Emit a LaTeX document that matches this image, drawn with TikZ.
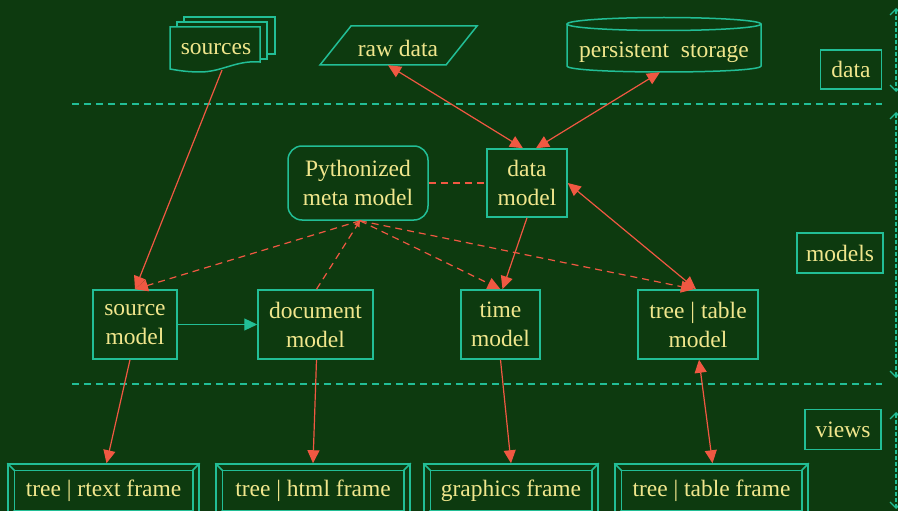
\documentclass[tikz,border=0pt]{standalone}
\usepackage{fontspec}
\setmainfont{Liberation Serif}
\usetikzlibrary{arrows.meta,calc}
\definecolor{bg}{RGB}{13,58,15}
\definecolor{tl}{RGB}{34,190,150}
\definecolor{txt}{RGB}{240,230,140}
\definecolor{arr}{RGB}{240,88,66}
\begin{document}
\begin{tikzpicture}[x=1pt,y=-1pt,
  font=\fontsize{23.5}{29}\selectfont,
  box/.style={draw=tl, line width=1.5pt, text=txt, align=center, inner sep=0pt},
  lbl/.style={text=txt, align=center, inner sep=0pt},
  ln/.style={draw=tl, line width=1.5pt},
  frm/.style={box, minimum height=53pt},
  ra/.style={draw=arr, line width=1.2pt, -{Triangle[length=13pt,width=12pt]}},
  rb/.style={draw=arr, line width=1.2pt, {Triangle[length=13pt,width=12pt]}-{Triangle[length=13pt,width=12pt]}},
  dsh/.style={dash pattern=on 7pt off 5pt},
  sep/.style={draw=tl, line width=1.1pt, dash pattern=on 7pt off 5pt},
  brk/.style={draw=tl, line width=1.3pt, dash pattern=on 4pt off 2pt, {Straight Barb[length=6pt,width=12pt]}-{Straight Barb[length=6pt,width=12pt]}}
]
\useasboundingbox (0,0) rectangle (898,511);
\clip (0,0) rectangle (898,511);
\fill[bg] (0,0) rectangle (898,511);

% separators
\draw[sep] (72,104) -- (882,104);
\draw[sep] (72,384) -- (882,384);
% right brackets
\draw[brk] (896,8) -- (896,92);
\draw[brk] (896,112) -- (896,378);
\draw[brk] (896,412) -- (896,509);

% sources (document stack)
\draw[ln, fill=bg] (184,17) -- (275,17) -- (275,54) -- (266,54) -- (266,22) -- (184,22) -- cycle;
\draw[ln, fill=bg] (177,22) -- (267,22) -- (267,59) -- (260,59) -- (260,27) -- (177,27) -- cycle;
\draw[ln, fill=bg] (170,27) -- (260,27) -- (260,62) .. controls (236,60) and (222,72) .. (200,72)
  .. controls (186,72) and (176,70) .. (170,69) -- cycle;
\node[lbl] (src) at (216,49) {sources};
\coordinate (srcbot) at (222,70);

% raw data
\draw[ln] (351,26) -- (477,26) -- (446,65) -- (320,65) -- cycle;
\node[lbl, minimum height=34pt, minimum width=126pt] (raw) at (398,48) {raw data};

% persistent storage (cylinder)
\draw[ln] (567,24) -- (567,66) .. controls (567,74) and (761,74) .. (761,66) -- (761,24);
\draw[ln] (664,24) ellipse [x radius=97, y radius=6.5];
\node[lbl, minimum height=40pt, minimum width=194pt] (ps) at (664,52) {persistent\ \ storage};

% layer labels
\node[box, minimum width=61pt, minimum height=39pt] (ldata) at (851,69.5) {data};
\node[box, minimum width=86pt, minimum height=40pt] (lmodels) at (840,253) {models};
\node[box, minimum width=76pt, minimum height=40pt] (lviews) at (843,429.5) {views};

% models
\node[box, rounded corners=14pt, minimum width=140pt, minimum height=74pt] (meta) at (358,183) {Pythonized\\meta model};
\node[box, minimum width=80pt, minimum height=68pt] (dm) at (527,183) {data\\model};
\node[box, minimum width=84pt, minimum height=69pt] (sm) at (135,324.5) {source\\model};
\node[box, minimum width=115pt, minimum height=69pt] (doc) at (315.5,324.5) {document\\model};
\node[box, minimum width=79pt, minimum height=69pt] (tm) at (500.5,324.5) {time\\model};
\node[box, minimum width=120pt, minimum height=69pt] (ttm) at (698,324.5) {tree | table\\model};

% frames
\node[frm, minimum width=191pt] (f1) at (103.5,490.5) {tree | rtext frame};
\node[frm, minimum width=194pt] (f2) at (313,490.5) {tree | html frame};
\node[frm, minimum width=174pt] (f3) at (511,490.5) {graphics frame};
\node[frm, minimum width=193pt] (f4) at (711.5,490.5) {tree | table frame};
\foreach \n in {f1,f2,f3,f4}{
  \draw[ln] ([xshift=7pt,yshift=-7pt]\n.north west) rectangle ([xshift=-7pt,yshift=7pt]\n.south east);
  \draw[ln] (\n.north west) -- ([xshift=7pt,yshift=-7pt]\n.north west);
  \draw[ln] (\n.north east) -- ([xshift=-7pt,yshift=-7pt]\n.north east);
  \draw[ln] (\n.south west) -- ([xshift=7pt,yshift=7pt]\n.south west);
  \draw[ln] (\n.south east) -- ([xshift=-7pt,yshift=7pt]\n.south east);
}

% connectors
\draw[ra] (srcbot) -- (sm.north);
\draw[rb] ([xshift=-10pt]raw.south) -- ([xshift=-4pt]dm.north);
\draw[rb] ([xshift=-4pt]ps.south) -- ([xshift=9pt]dm.north);
\draw[draw=arr, line width=1.2pt, dsh] (meta.east) -- (dm.west);
\draw[rb] (dm.east) -- ([xshift=-2pt]ttm.north);
\draw[ra] (dm.south) -- ([xshift=2pt]tm.north);
\draw[draw=tl, line width=1.2pt, -{Triangle[length=13pt,width=12pt]}] (sm.east) -- (doc.west);
\draw[ra, dsh] ([xshift=2pt]meta.south) -- (sm.north);
\draw[draw=arr, line width=1.2pt, dsh, -{Triangle[length=6pt,width=6pt]}] ([xshift=1pt]doc.north) -- ([xshift=2pt]meta.south);
\draw[ra, dsh] ([xshift=2pt]meta.south) -- (tm.north);
\draw[ra, dsh] ([xshift=2pt]meta.south) -- ([xshift=-4pt]ttm.north);
\draw[ra] ([xshift=-5pt]sm.south) -- ([xshift=3pt]f1.north);
\draw[ra] ([xshift=1pt]doc.south) -- (f2.north);
\draw[ra] (tm.south) -- (f3.north);
\draw[rb] ([xshift=1pt]ttm.south) -- ([xshift=1pt]f4.north);
\end{tikzpicture}
\end{document}
